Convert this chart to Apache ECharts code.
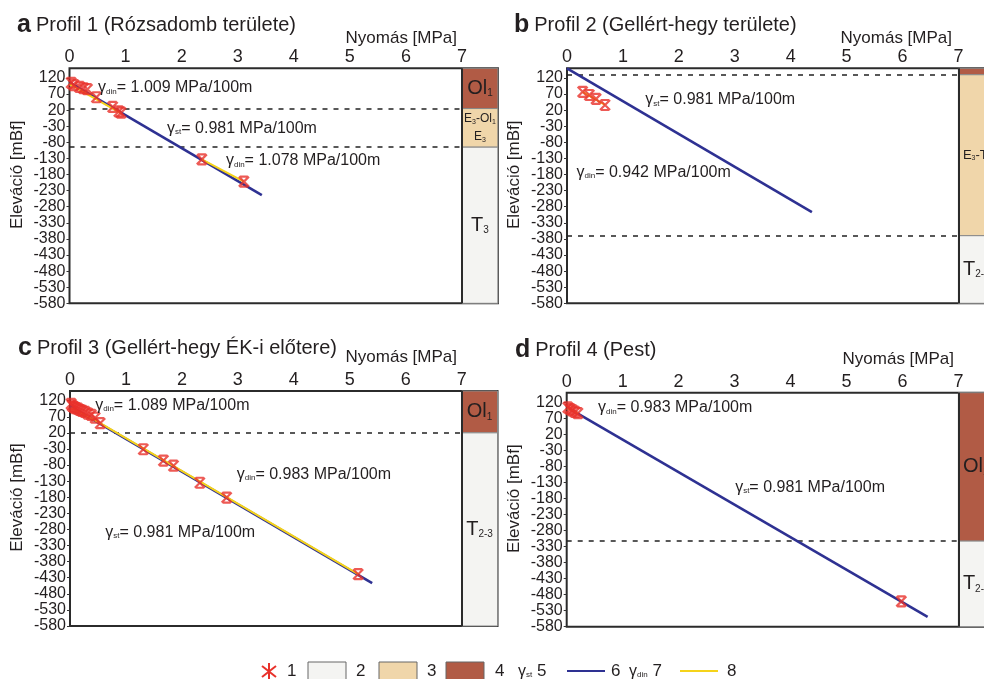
<!DOCTYPE html>
<html><head><meta charset="utf-8">
<script src="https://cdn.jsdelivr.net/npm/echarts@6/dist/echarts.min.js"></script>
<style>html,body{margin:0;padding:0;background:#fff}#c{width:984px;height:679px}</style>
</head><body><div id="c"></div><script>
// ---------- DATA ----------
const yTicks = [-580,-530,-480,-430,-380,-330,-280,-230,-180,-130,-80,-30,20,70,120];
const xTicks = [0,1,2,3,4,5,6,7];
const yMin = -580, yMax = 150, xStripEnd = 7.64;

// Panel a
const ptsA = [[0.03,105],[0.08,98],[0.18,92],[0.25,88],[0.32,85],[0.48,60],[0.77,30],[0.88,16],[0.92,12],[2.36,-133],[3.11,-202]];
const stA = [[0,106],[3.43,-244]];
const dinA1 = [[0,101],[0.92,10]];
const dinA2 = [[2.36,-133],[3.11,-202]];
const dashA = [25,-95];
const strataA = [[150,25,'ol'],[25,-95,'e'],[-95,-580,'t']];
// Panel b
const ptsB = [[0.28,77],[0.40,67],[0.52,55],[0.68,36]];
const stB = [[0,150],[4.38,-297]];
const dinB1 = [[0.28,77],[0.68,36]];
const dashB = [130,-370];
const strataB = [[150,130,'ol'],[130,-370,'e'],[-370,-580,'t']];
// Panel c
const ptsC = [[0.02,110],[0.04,104],[0.07,100],[0.10,97],[0.14,95],[0.18,91],[0.22,88],[0.27,85],[0.32,80],[0.38,76],[0.45,67],[0.54,50],[1.31,-31],[1.67,-66],[1.85,-82],[2.32,-135],[2.80,-181],[5.15,-419]];
const stC = [[0,103],[5.40,-447]];
const dinC1 = [[0.02,97],[0.54,50]];
const dinC2 = [[0.54,50],[5.15,-419]];
const dashC = [20];
const strataC = [[150,20,'ol'],[20,-580,'t']];
// Panel d
const ptsD = [[0.02,104],[0.06,99],[0.10,95],[0.15,90],[0.20,86],[5.98,-501]];
const stD = [[0.10,95],[6.45,-549]];
const dinD1 = [[0.02,101],[0.20,86]];
const dashD = [-313];
const strataD = [[150,-313,'ol'],[-313,-580,'t']];

// strata labels (rich text)
const strataLabA = ['{m|Ol}{s|1}', '{sm|E}{ss|3}{sm|-Ol}{ss|1}\n{sm|E}{ss|3}', '{m|T}{s|3}'];
const strataLabB = ['', '{m2|E}{ss|3}{m2|-T}{ss|3}', '{m|T}{s|2-3}'];
const strataLabC = ['{m|Ol}{s|1}', '{m|T}{s|2-3}'];
const strataLabD = ['{m|Ol}{s|1}', '{m|T}{s|2-3}'];

// annotations [x, y, kind, value]
const annA = [[0.51,89,'din','1.009'],[1.74,-36,'st','0.981'],[2.79,-138,'din','1.078']];
const annB = [[1.40,52,'st','0.981'],[0.17,-174,'din','0.942']];
const annC = [[0.45,106,'din','1.089'],[2.98,-109,'din','0.983'],[0.63,-289,'st','0.981']];
const annD = [[0.56,102,'din','0.983'],[3.01,-146,'st','0.981']];

const titles = [['a','Profil 1 (Rózsadomb területe)'],['b','Profil 2 (Gellért-hegy területe)'],['c','Profil 3 (Gellért-hegy ÉK-i előtere)'],['d','Profil 4 (Pest)']];
const xName = 'Nyomás [MPa]', yName = 'Eleváció [mBf]';

// ---------- STYLE / LAYOUT ----------
const FF = 'Liberation Sans, Arial, sans-serif';
const TXT = '#231f20';
const BLUE = '#2e3192', YEL = '#f5d31a', RED = '#e8312a';
const COL = {ol:'#b15b45', e:'#f0d6aa', t:'#f4f4f2'};
const layout = [
  {left:69.5, top:68.3, width:428.4, height:235, tl:12, tt:8, stripLeft:false, nx:457, ny:40},
  {left:567, top:68.3, width:427.2, height:235, tl:509, tt:8, stripLeft:true, nx:952, ny:40},
  {left:70, top:391, width:427.5, height:235, tl:13, tt:331, stripLeft:false, nx:457, ny:359},
  {left:566.7, top:392.7, width:427.5, height:234, tl:510, tt:333, stripLeft:true, nx:954, ny:361}
];
const richStrata = {
  m:{fontSize:20, fontFamily:FF, color:TXT},
  s:{fontSize:10, fontFamily:FF, color:TXT, padding:[10,0,0,0]},
  m2:{fontSize:13, fontFamily:FF, color:TXT},
  sm:{fontSize:12, fontFamily:FF, color:TXT, lineHeight:18},
  ss:{fontSize:7, fontFamily:FF, color:TXT, padding:[6,0,0,0]}
};
const richAnn = {
  g:{fontSize:16, fontFamily:FF, color:TXT},
  s:{fontSize:8, fontFamily:FF, color:TXT, padding:[7,0,0,0]},
  t:{fontSize:16, fontFamily:FF, color:TXT}
};
const markerPath = 'path://M0,0L10,10M10,0L0,10M1,0L9,0M1,10L9,10';

const panels = [
  {pts:ptsA, st:stA, din:[dinA1,dinA2], dash:dashA, strata:strataA, lab:strataLabA, ann:annA},
  {pts:ptsB, st:stB, din:[dinB1], dash:dashB, strata:strataB, lab:strataLabB, ann:annB},
  {pts:ptsC, st:stC, din:[dinC1,dinC2], dash:dashC, strata:strataC, lab:strataLabC, ann:annC},
  {pts:ptsD, st:stD, din:[dinD1], dash:dashD, strata:strataD, lab:strataLabD, ann:annD}
];

const option = {animation:false, backgroundColor:'#fff', title:[], grid:[], xAxis:[], yAxis:[], series:[], graphic:[]};
const g = [];

panels.forEach((p,i)=>{
  const L = layout[i];
  option.title.push({left:L.tl, top:L.tt, text:'{L|'+titles[i][0]+'} {T|'+titles[i][1]+'}',
    textStyle:{fontWeight:'normal', rich:{L:{fontSize:25,fontWeight:'bold',fontFamily:FF,color:TXT},T:{fontSize:20,fontWeight:'normal',fontFamily:FF,color:TXT}}}});
  option.grid.push({left:L.left, top:L.top, width:L.width, height:L.height, show:true, borderColor:'#2b2b2b', borderWidth:2, backgroundColor:'#fff', outerBoundsMode:'none', containLabel:false});
  option.xAxis.push({type:'value', gridIndex:i, position:'top', min:0, max:xStripEnd,
    axisLine:{show:false}, axisTick:{show:false}, splitLine:{show:false},
    axisLabel:{customValues:xTicks, fontSize:18, fontFamily:FF, color:TXT, margin:2}});
  option.yAxis.push({type:'value', gridIndex:i, min:yMin, max:yMax,
    name:yName, nameLocation:'middle', nameGap:44, nameMoveOverlap:false,
    nameTextStyle:{fontSize:17, fontFamily:FF, color:TXT, padding:[0,0,0,22]},
    axisLine:{show:false}, splitLine:{show:false},
    axisTick:{show:true, customValues:yTicks, length:3, lineStyle:{color:'#333'}},
    axisLabel:{customValues:yTicks, fontSize:16, fontFamily:FF, color:TXT, margin:4}});
  // x-axis name, placed above the top tick labels
  g.push({type:'text', right:984-L.nx, top:L.ny-10, style:{text:xName, fontSize:17, fontFamily:FF, fill:TXT}});

  const maData = p.strata.map((s,k)=>[
    {coord:[7,s[0]], itemStyle:{color:COL[s[2]], borderColor:'#888', borderWidth:1},
     label:{show:true, position: L.stripLeft ? 'insideLeft' : 'inside', distance:5, formatter:p.lab[k], rich:richStrata, lineHeight:18}},
    {coord:[xStripEnd,s[1]]}]);
  const mlData = p.dash.map(y=>[{coord:[0,y], lineStyle:{type:[5,6], width:1.6, color:'#222'}},{coord:[7,y]}]);
  mlData.push([{coord:[7,yMax], lineStyle:{type:'solid', width:2, color:'#2b2b2b'}},{coord:[7,yMin]}]);

  option.series.push({type:'line', xAxisIndex:i, yAxisIndex:i, data:p.st, showSymbol:false, symbol:'none',
    lineStyle:{color:BLUE, width:2.6}, z:3,
    markArea:{silent:true, data:maData, z:1},
    markLine:{silent:true, symbol:['none','none'], label:{show:false}, data:mlData, z:2}});
  p.din.forEach(seg=>{
    option.series.push({type:'line', xAxisIndex:i, yAxisIndex:i, data:seg, showSymbol:false, symbol:'none',
      lineStyle:{color:YEL, width:2}, z:4});
  });
  option.series.push({type:'scatter', xAxisIndex:i, yAxisIndex:i, data:p.pts, symbol:markerPath, symbolSize:10,
    itemStyle:{color:'rgba(0,0,0,0)', borderColor:RED, borderWidth:2.2}, z:5});
  option.series.push({type:'scatter', xAxisIndex:i, yAxisIndex:i, symbolSize:0, z:6, silent:true,
    data:p.ann.map(a=>({value:[a[0],a[1]], label:{show:true, position:'right', distance:0, color:TXT, opacity:1, textBorderWidth:0,
      formatter:'{g|γ}{s|'+a[2]+'}{t|= '+a[3]+' MPa/100m}', rich:richAnn}}))});
});

// ---------- LEGEND (graphic) ----------
const legTxt = (x, t)=>({type:'text', left:x, top:663, style:{text:t, fontSize:17, fontFamily:FF, fill:TXT}});
const legBox = (x, c)=>({type:'rect', shape:{x:x, y:662, width:38, height:18}, style:{fill:c, stroke:'#666', lineWidth:1}});
const legLine = (x, c)=>({type:'line', shape:{x1:x, y1:671, x2:x+38, y2:671}, style:{stroke:c, lineWidth:2}});
g.push({type:'line', shape:{x1:269,y1:663,x2:269,y2:680}, style:{stroke:RED,lineWidth:2}});
g.push({type:'line', shape:{x1:262,y1:666,x2:276,y2:677}, style:{stroke:RED,lineWidth:2}});
g.push({type:'line', shape:{x1:262,y1:677,x2:276,y2:666}, style:{stroke:RED,lineWidth:2}});
g.push(legTxt(287,'1'));
g.push(legBox(308,COL.t)); g.push(legTxt(356,'2'));
g.push(legBox(379,COL.e)); g.push(legTxt(427,'3'));
g.push(legBox(446,COL.ol)); g.push(legTxt(495,'4'));
g.push({type:'text', left:518, top:663, style:{rich:richAnn, text:'{g|γ}{s|st} 5', fontSize:17, fontFamily:FF, fill:TXT}});
g.push(legLine(567,BLUE)); g.push(legTxt(611,'6'));
g.push({type:'text', left:629, top:663, style:{rich:richAnn, text:'{g|γ}{s|din} 7', fontSize:17, fontFamily:FF, fill:TXT}});
g.push(legLine(680,YEL)); g.push(legTxt(727,'8'));
option.graphic = g;

const chart = echarts.init(document.getElementById('c'), null, {renderer:'canvas'});
chart.setOption(option);
</script></body></html>
